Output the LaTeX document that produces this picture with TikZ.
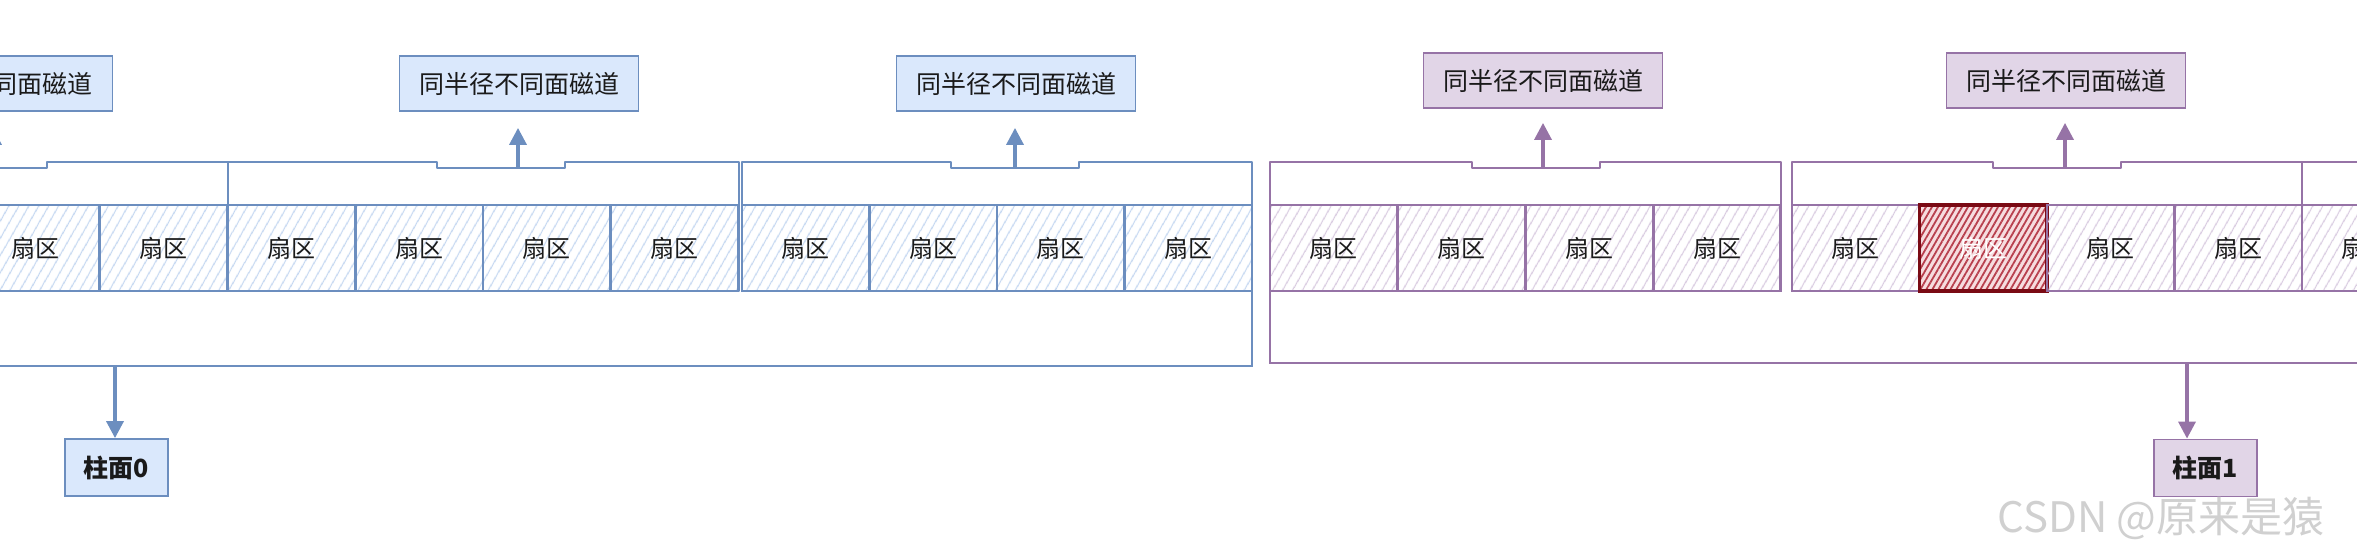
\documentclass[tikz,border=0pt]{standalone}
\usepackage{fontspec}
\setmainfont{Noto Sans CJK SC}
\usetikzlibrary{patterns.meta,arrows.meta}
\definecolor{bstroke}{HTML}{6C8EBF}
\definecolor{bfill}{HTML}{DAE8FC}
\definecolor{bhatch}{HTML}{C4D7F1}
\definecolor{pstroke}{HTML}{9673A6}
\definecolor{pfill}{HTML}{E1D5E7}
\definecolor{phatch}{HTML}{D8CAE0}
\definecolor{rstroke}{HTML}{7A0A14}
\definecolor{rhatch}{HTML}{B8404E}
\definecolor{rbg}{HTML}{F6DCDF}
\definecolor{wmgray}{HTML}{D0D0D0}
\definecolor{txt}{HTML}{1A1A1A}
\tikzset{
  sec/.style={draw, line width=1.3pt, minimum width=63.75pt, minimum height=43pt,
    inner sep=0pt, outer sep=0pt, anchor=north west, text=txt,
    font=\fontsize{12}{14}\selectfont},
  bsec/.style={sec, draw=bstroke, pattern={Lines[angle=60,distance=4pt,line width=0.6pt]}, pattern color=bhatch},
  psec/.style={sec, draw=pstroke, pattern={Lines[angle=60,distance=4pt,line width=0.6pt]}, pattern color=phatch},
  rsec/.style={sec, draw=rstroke, line width=1.6pt, text=white,
    preaction={fill=rbg}, pattern={Lines[angle=60,distance=2.6pt,line width=0.9pt]}, pattern color=rhatch},
  btrack/.style={draw=bstroke, line width=1.3pt, fill=white, line join=round},
  ptrack/.style={draw=pstroke, line width=1.3pt, fill=white, line join=round},
  bcyl/.style={draw=bstroke, line width=1.4pt},
  pcyl/.style={draw=pstroke, line width=1.4pt},
  lab/.style={draw, line width=0.9pt, minimum width=119.5pt, minimum height=27.5pt,
    inner sep=0pt, text=txt, font=\fontsize{12.5}{15}\selectfont},
  blab/.style={lab, draw=bstroke, fill=bfill},
  plab/.style={lab, draw=pstroke, fill=pfill},
  cyllab/.style={draw, line width=0.9pt, minimum width=51.5pt, minimum height=28.5pt,
    inner sep=0pt, text=txt, font=\fontsize{12.5}{15}\selectfont\bfseries},
  barrow/.style={draw=bstroke, line width=1.7pt, -{Triangle[length=8.5pt,width=8.5pt]}},
  parrow/.style={draw=pstroke, line width=1.7pt, -{Triangle[length=8.5pt,width=8.5pt]}},
}
\begin{document}
\begin{tikzpicture}[x=0.5pt,y=-0.5pt]
\useasboundingbox (0,0) rectangle (2357,558);
\clip (0,0) rectangle (2357,558);

% ---------- cylinder 0 (blue) ----------
\draw[bcyl] (-1300,366) -- (1252,366) -- (1252,162);
% tracks
\draw[btrack] (-283,291) |- (-81,162) -- (-81,168) -| (47,162) -| (228,291) -- cycle;
\draw[btrack] (228,291) |- (437,162) -- (437,168) -| (565,162) -| (739,291) -- cycle;
\draw[btrack] (742,291) |- (951,162) -- (951,168) -| (1079,162) -| (1252,291) -- cycle;
% sectors
\foreach \L/\nm in {-283/ba,228/bb,742/bc}{
  \foreach \k in {0,...,3}{
    \node[bsec] (\nm\k) at ({\L+\k*127.5},205) {扇区};
  }
}

% ---------- cylinder 1 (purple) ----------
\draw[pcyl] (1270,162) -- (1270,363) -- (3000,363);
\draw[ptrack] (1270,291) |- (1472,162) -- (1472,168) -| (1600,162) -| (1781,291) -- cycle;
\draw[ptrack] (1792,291) |- (1993,162) -- (1993,168) -| (2121,162) -| (2302,291) -- cycle;
\draw[ptrack] (2302,291) |- (2550,162) -| (2813,291) -- cycle;
\foreach \k in {0,...,3}{
  \node[psec] (pa\k) at ({1270+\k*127.75},205) {扇区};
}
\node[psec] (pb0) at (1792,205) {扇区};
\node[rsec] (pb1) at (1919.5,205) {扇区};
\node[psec] (pb2) at (2047,205) {扇区};
\node[psec] (pb3) at (2174.5,205) {扇区};
\node[psec] (pc0) at (2302,205) {扇区};

% ---------- track labels ----------
\node[blab] (bl1) at (-7,83.5) {同半径不同面磁道};
\node[blab] (bl2) at (519,83.5) {同半径不同面磁道};
\node[blab] (bl3) at (1016,83.5) {同半径不同面磁道};
\node[plab] (pl1) at (1543,80.5) {同半径不同面磁道};
\node[plab] (pl2) at (2066,80.5) {同半径不同面磁道};

\coordinate (bn1) at (-7,168);
\coordinate (bn2) at (518,168);
\coordinate (bn3) at (1015,168);
\coordinate (pn1) at (1543,168);
\coordinate (pn2) at (2065,168);
\draw[barrow, shorten >=8pt] (bn1) -- (bn1 |- bl1.south);
\draw[barrow, shorten >=8pt] (bn2) -- (bn2 |- bl2.south);
\draw[barrow, shorten >=8pt] (bn3) -- (bn3 |- bl3.south);
\draw[parrow, shorten >=7pt] (pn1) -- (pn1 |- pl1.south);
\draw[parrow, shorten >=7pt] (pn2) -- (pn2 |- pl2.south);

% ---------- cylinder labels ----------
\node[cyllab, draw=bstroke, fill=bfill] (c0) at (116.5,467.5) {柱面0};
\node[cyllab, draw=pstroke, fill=pfill] (c1) at (2205.5,468) {柱面1};
\coordinate (bcb) at (115,366);
\coordinate (pcb) at (2187,363);
\draw[barrow] (bcb) -- (bcb |- c0.north);
\draw[parrow] (pcb) -- (pcb |- c1.north);

% ---------- watermark ----------
\node[anchor=west, inner sep=0pt, text=wmgray, font=\fontsize{21}{24}\selectfont] (wm) at (1997,518) {CSDN @原来是猿};
\end{tikzpicture}
\end{document}
